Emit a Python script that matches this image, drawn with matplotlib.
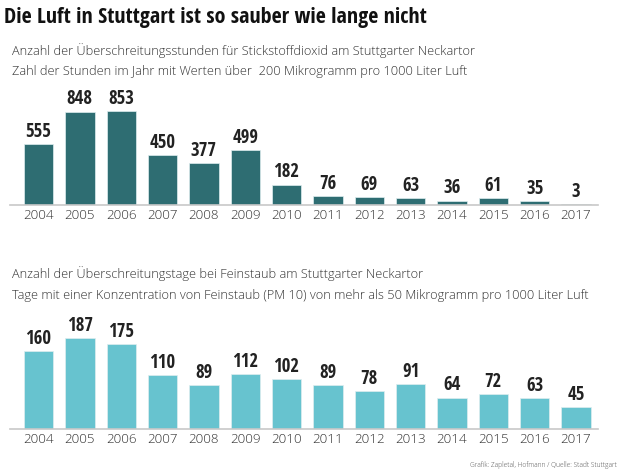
import matplotlib
matplotlib.use("Agg")
import matplotlib.pyplot as plt
from matplotlib import font_manager
from matplotlib.font_manager import FontProperties

years = ["2004", "2005", "2006", "2007", "2008", "2009", "2010",
         "2011", "2012", "2013", "2014", "2015", "2016", "2017"]
no2_hours = [555, 848, 853, 450, 377, 499, 182, 76, 69, 63, 36, 61, 35, 3]
pm10_days = [160, 187, 175, 110, 89, 112, 102, 89, 78, 91, 64, 72, 63, 45]

title = "Die Luft in Stuttgart ist so sauber wie lange nicht"
sub1 = ["Anzahl der Überschreitungsstunden für Stickstoffdioxid am Stuttgarter Neckartor",
        "Zahl der Stunden im Jahr mit Werten über  200 Mikrogramm pro 1000 Liter Luft"]
sub2 = ["Anzahl der Überschreitungstage bei Feinstaub am Stuttgarter Neckartor",
        "Tage mit einer Konzentration von Feinstaub (PM 10) von mehr als 50 Mikrogramm pro 1000 Liter Luft"]
credit = "Grafik: Zapletal, Hofmann / Quelle: Stadt Stuttgart"

light_file = bold_file = None
for f in font_manager.fontManager.ttflist:
    if f.name == "Open Sans Condensed" and str(f.style) == "normal":
        w = str(f.weight).lower()
        if w in ("300", "light") and light_file is None:
            light_file = f.fname
        elif w in ("700", "bold") and bold_file is None:
            bold_file = f.fname
if light_file is None:
    for f in font_manager.fontManager.ttflist:
        if "open sans condensed" in f.name.lower() and "light" in f.fname.lower() \
                and "italic" not in f.fname.lower():
            light_file = f.fname
            break

def fp(bold, size):
    fn = bold_file if bold else light_file
    if fn:
        return FontProperties(fname=fn, size=size)
    return FontProperties(family=["Open Sans", "DejaVu Sans"], size=size * 0.8,
                          weight="bold" if bold else 300)

W, H = 620, 473
fig = plt.figure(figsize=(W / 100, H / 100), dpi=100)

def px_axes(left, top, right, bottom):
    return fig.add_axes([left / W, 1 - bottom / H, (right - left) / W, (bottom - top) / H])

def panel(values, color, base_px, scale, top_px):
    ax = px_axes(10, top_px, 598, base_px)
    pitch = 41.35
    x = list(range(len(values)))
    ax.bar(x, values, width=0.71, color=color, edgecolor="#dfeef0", linewidth=0.5)
    ax.set_xlim(-(38.5 - 10) / pitch, 13 + (598 - 576) / pitch)
    ax.set_ylim(0, (base_px - top_px) / scale)
    for s in ["top", "right", "left"]:
        ax.spines[s].set_visible(False)
    ax.spines["bottom"].set_color("#c8c8c8")
    ax.spines["bottom"].set_linewidth(1.2)
    ax.set_yticks([])
    ax.set_xticks(x)
    ax.set_xticklabels(years, fontproperties=fp(False, 12), color="#333333")
    ax.tick_params(axis="x", length=0, pad=3)
    for xi, v in zip(x, values):
        ax.annotate(str(v), (xi, v), xytext=(0, 1.5), textcoords="offset points",
                    ha="center", va="bottom", fontproperties=fp(True, 13.5),
                    color="#222222")
    return ax

panel(no2_hours, "#2e6d72", 204.5, 0.1096, 95)
panel(pm10_days, "#67c3cf", 428.5, 0.484, 320)

fig.text(4 / W, 1 - 17 / H, title, fontproperties=fp(True, 15.8),
         color="#111111", va="center", ha="left")
for y, s in [(51, sub1[0]), (72, sub1[1]), (274, sub2[0]), (296, sub2[1])]:
    fig.text(12 / W, 1 - y / H, s, fontproperties=fp(False, 11.5),
             color="#333333", va="center")
fig.text(617 / W, 1 - 465 / H, credit, fontproperties=fp(False, 6),
         color="#555555", va="center", ha="right")

fig.savefig("out.png", dpi=100)
